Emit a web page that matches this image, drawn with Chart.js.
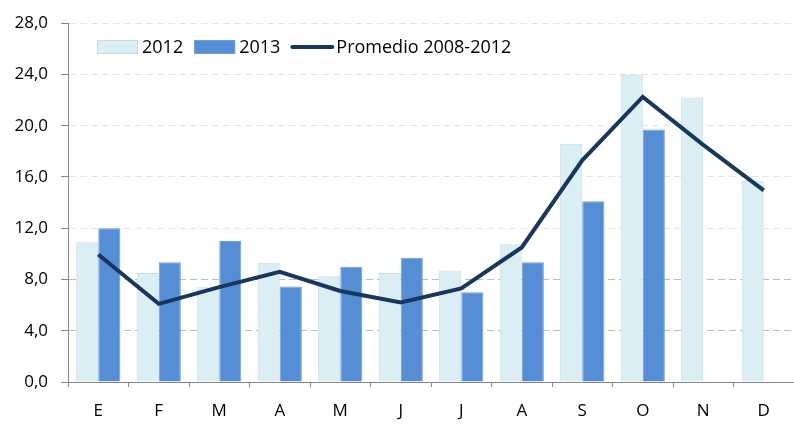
<!DOCTYPE html>
<html>
<head>
<meta charset="utf-8">
<script src="https://cdn.jsdelivr.net/npm/chart.js@4.4.1/dist/chart.umd.min.js"></script>
<style>
  html, body { margin: 0; padding: 0; background: #ffffff; }
  #wrap { width: 794px; height: 424px; }
</style>
</head>
<body>
<div id="wrap"><canvas id="c" width="794" height="424"></canvas></div>
<script>
const categories = ['E', 'F', 'M', 'A', 'M', 'J', 'J', 'A', 'S', 'O', 'N', 'D'];
const seriesNames = ['2012', '2013', 'Promedio 2008-2012'];
const values2012 = [10.9, 8.5, 7.4, 9.3, 8.25, 8.5, 8.7, 10.75, 18.6, 24.0, 22.2, 15.7];
const values2013 = [12.0, 9.35, 11.0, 7.45, 9.0, 9.7, 7.0, 9.35, 14.1, 19.7, null, null];
const promedio = [9.95, 6.1, 7.4, 8.6, 7.1, 6.2, 7.3, 10.5, 17.3, 22.25, 18.5, 14.95];
const yTickValues = [0, 4, 8, 12, 16, 20, 24, 28];

const FONT = "'Open Sans', 'DejaVu Sans', sans-serif";

const legendPlugin = {
  id: 'insideLegend',
  afterDraw(chart) {
    const ctx = chart.ctx;
    ctx.save();
    ctx.font = '18px ' + FONT;
    ctx.textBaseline = 'middle';
    ctx.fillStyle = '#000000';
    let x = 97;
    const y = 47;
    chart.data.datasets.forEach((ds) => {
      if (ds.type === 'line') {
        ctx.strokeStyle = ds.borderColor;
        ctx.lineWidth = 4;
        ctx.lineCap = 'round';
        ctx.beginPath();
        ctx.moveTo(x + 1, y);
        ctx.lineTo(x + 41, y);
        ctx.stroke();
      } else {
        ctx.fillStyle = ds.backgroundColor;
        ctx.fillRect(x, y - 7, 41, 14);
        ctx.strokeStyle = ds.borderColor;
        ctx.lineWidth = 1;
        ctx.strokeRect(x + 0.5, y - 6.5, 40, 13);
      }
      ctx.fillStyle = '#000000';
      ctx.fillText(ds.label, x + 45, y + 1);
      x += 45 + ctx.measureText(ds.label).width + 11;
    });
    ctx.restore();
  }
};

new Chart(document.getElementById('c'), {
  data: {
    labels: categories,
    datasets: [
      {
        type: 'bar',
        label: seriesNames[0],
        data: values2012,
        backgroundColor: '#dbeef4',
        borderColor: '#c6d9f1',
        borderWidth: 1,
        categoryPercentage: 0.73,
        barPercentage: 1.0,
        order: 1
      },
      {
        type: 'bar',
        label: seriesNames[1],
        data: values2013,
        backgroundColor: '#558ed5',
        borderColor: '#6b9de0',
        borderWidth: 1,
        categoryPercentage: 0.73,
        barPercentage: 1.0,
        order: 1
      },
      {
        type: 'line',
        label: seriesNames[2],
        data: promedio,
        borderColor: '#17375e',
        borderWidth: 4,
        pointRadius: 0,
        tension: 0,
        fill: false,
        order: 0
      }
    ]
  },
  options: {
    responsive: false,
    animation: false,
    devicePixelRatio: 1,
    layout: { padding: { top: 18, right: 0, left: 0, bottom: 0 } },
    plugins: {
      legend: { display: false },
      tooltip: { enabled: false },
      title: { display: false }
    },
    scales: {
      x: {
        offset: true,
        grid: {
          display: true,
          offset: true,
          drawOnChartArea: false,
          drawTicks: true,
          tickLength: 5,
          tickColor: '#868686'
        },
        border: { display: true, color: '#868686', width: 1 },
        ticks: {
          color: '#000000',
          font: { family: FONT, size: 17 },
          padding: 14,
          maxRotation: 0,
          autoSkip: false
        },
        afterFit(scale) { scale.height = 42; }
      },
      y: {
        min: 0,
        max: 28,
        afterBuildTicks(scale) {
          scale.ticks = yTickValues.map(v => ({ value: v }));
        },
        grid: {
          color: (c) => (c.tick && c.tick.value <= 8 ? '#a9c0ea' : '#dde4f5'),
          drawTicks: true,
          tickLength: 7,
          tickColor: '#868686',
          tickBorderDash: []
        },
        border: { display: true, color: '#868686', width: 1, dash: [7, 4] },
        ticks: {
          color: '#000000',
          font: { family: FONT, size: 17 },
          padding: 13,
          callback: (v) => Number(v).toFixed(1).replace('.', ',')
        },
        afterFit(scale) { scale.width = 68; }
      }
    }
  },
  plugins: [legendPlugin]
});
</script>
</body>
</html>
